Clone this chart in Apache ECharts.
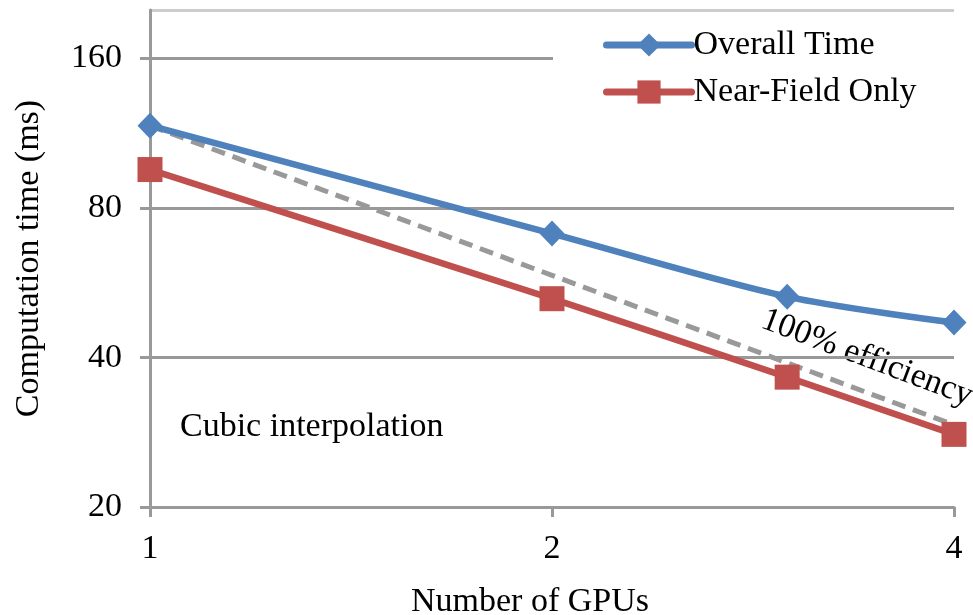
<!DOCTYPE html>
<html>
<head>
<meta charset="utf-8">
<script src="https://cdn.jsdelivr.net/npm/echarts@6/dist/echarts.min.js"></script>
<style>
  html, body { margin: 0; padding: 0; background: #fff; }
  #chart { width: 973px; height: 615px; }
</style>
</head>
<body>
<div id="chart"></div>
<script>
// GPU counts and timings (ms)
const gpus = [1, 2, 3, 4];
const overallTime = [117, 71, 53, 47];
const nearFieldOnly = [95.5, 52.5, 36.5, 28];
// ideal scaling from the single-GPU overall time
const idealScaling = [117, 58.5, 39, 29.25];
const xTicks = [1, 2, 4];
const yTicks = [20, 40, 80, 160];

const FONT = '"Liberation Serif", "DejaVu Serif", serif';
const FS = 34;
const pairs = (ys) => gpus.map((g, i) => [g, ys[i]]);

const chart = echarts.init(document.getElementById('chart'), null, { renderer: 'canvas' });
chart.setOption({
  animation: false,
  backgroundColor: '#fff',
  textStyle: { fontFamily: FONT, color: '#000' },
  grid: { left: 150, right: 19, top: 10, bottom: 108, containLabel: false, outerBoundsMode: 'none' },
  legend: {
    orient: 'vertical',
    left: 553,
    top: 18,
    padding: [10, 70, 12, 50],
    backgroundColor: '#fff',
    itemWidth: 85,
    itemHeight: 29,
    itemGap: 13,
    data: ['Overall Time', 'Near-Field Only'],
    lineStyle: { width: 7, cap: 'round' },
    textStyle: { fontFamily: FONT, fontSize: FS, color: '#000', padding: [0, 0, 0, -3] }
  },
  xAxis: {
    type: 'log',
    logBase: 2,
    min: xTicks[0],
    max: xTicks[xTicks.length - 1],
    interval: 1,
    name: 'Number of GPUs',
    nameLocation: 'middle',
    nameGap: 78,
    nameTextStyle: { fontFamily: FONT, fontSize: FS, color: '#000', padding: [0, 44, 0, 0] },
    axisLine: { show: true, lineStyle: { color: '#999', width: 3 } },
    axisTick: { show: true, length: 10, lineStyle: { color: '#999', width: 3 } },
    axisLabel: { margin: 25, fontFamily: FONT, fontSize: FS, color: '#000',
      formatter: (v) => String(Math.round(v)) },
    splitLine: { show: false }
  },
  yAxis: {
    type: 'log',
    logBase: 2,
    min: yTicks[0],
    max: 200,
    interval: 1,
    name: 'Computation time (ms)',
    nameLocation: 'middle',
    nameGap: 104,
    nameTextStyle: { fontFamily: FONT, fontSize: FS, color: '#000' },
    axisLine: { show: true, lineStyle: { color: '#999', width: 3 } },
    axisTick: { show: true, length: 10, lineStyle: { color: '#999', width: 3 } },
    axisLabel: { margin: 28, fontFamily: FONT, fontSize: FS, color: '#000', showMaxLabel: false,
      formatter: (v) => String(Math.round(v)) },
    splitLine: { show: true, lineStyle: { color: ['#999', '#999', '#999', '#999', '#ccc'], width: 3 } }
  },
  series: [
    {
      name: '100% efficiency',
      type: 'line',
      data: pairs(idealScaling),
      showSymbol: false,
      symbol: 'none',
      lineStyle: { color: '#999', width: 5, type: [14, 8] },
      z: 1
    },
    {
      name: 'Overall Time',
      type: 'line',
      data: pairs(overallTime),
      smooth: 0.3,
      symbol: 'diamond',
      symbolSize: [25, 26],
      color: '#4F81BD',
      itemStyle: { color: '#4F81BD' },
      lineStyle: { color: '#4F81BD', width: 6.5 },
      z: 3
    },
    {
      name: 'Near-Field Only',
      type: 'line',
      data: pairs(nearFieldOnly),
      smooth: 0.3,
      symbol: 'rect',
      symbolSize: 25,
      color: '#C0504D',
      itemStyle: { color: '#C0504D' },
      lineStyle: { color: '#C0504D', width: 6.5 },
      z: 2
    }
  ],
  graphic: [
    {
      type: 'text',
      left: 180,
      top: 410,
      style: { text: 'Cubic interpolation', font: FS + 'px ' + FONT, fill: '#000' }
    },
    {
      type: 'text',
      x: 867,
      y: 358,
      rotation: -0.36,
      style: { text: '100% efficiency', font: FS + 'px ' + FONT, fill: '#000',
        align: 'center', verticalAlign: 'middle' }
    }
  ]
});
</script>
</body>
</html>
